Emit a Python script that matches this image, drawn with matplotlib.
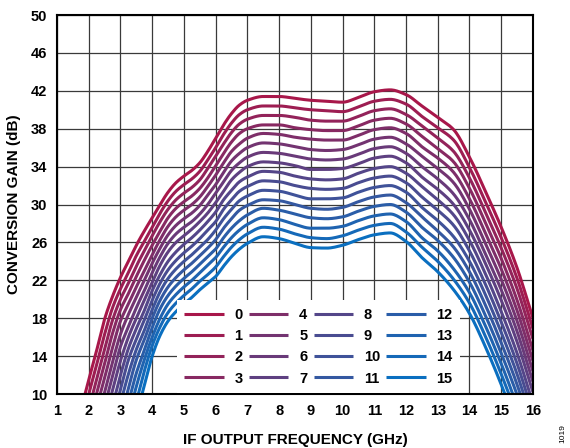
import numpy as np
import matplotlib
matplotlib.use("Agg")
import matplotlib.pyplot as plt
from matplotlib.colors import to_rgb

nan = float("nan")

freq_ghz = [1.75, 2.0, 2.25, 2.5, 2.75, 3.0, 3.25, 3.5, 3.75, 4.0, 4.25, 4.5, 4.75, 5.0,
            5.25, 5.5, 5.75, 6.0, 6.25, 6.5, 6.75, 7.0, 7.5, 8.0, 8.5, 9.0, 9.5, 10.0,
            10.5, 11.0, 11.5, 12.0, 12.5, 13.0, 13.5, 14.0, 14.5, 15.0, 15.5, 16.0]

gain_00 = [8.3, 11.5, 14.6, 17.9, 20.3, 22.3, 24.0, 25.7, 27.2, 28.6, 30.0, 31.3, 32.3, 33.0,
           33.6, 34.4, 35.6, 37.0, 38.4, 39.6, 40.5, 41.0, 41.4, 41.4, 41.2, 41.0, 40.9, 40.8,
           41.3, 41.9, 42.1, 41.6, 40.4, 39.2, 37.9, 35.0, 31.4, 27.6, 23.3, 18.0]
gain_01 = [6.8, 10.0, 13.1, 16.3, 19.1, 21.1, 22.8, 24.6, 26.1, 27.6, 29.1, 30.4, 31.4, 32.1,
           32.7, 33.5, 34.7, 36.0, 37.4, 38.6, 39.5, 40.0, 40.4, 40.4, 40.2, 40.0, 39.9, 39.8,
           40.3, 40.9, 41.1, 40.6, 39.3, 38.1, 36.8, 33.9, 30.3, 26.5, 22.2, 16.9]
gain_02 = [5.2, 8.4, 11.6, 14.7, 17.8, 20.0, 21.7, 23.5, 25.1, 26.7, 28.2, 29.5, 30.5, 31.2,
           31.8, 32.6, 33.8, 35.1, 36.4, 37.6, 38.5, 39.0, 39.4, 39.4, 39.2, 38.9, 38.8, 38.8,
           39.3, 39.9, 40.1, 39.5, 38.3, 37.0, 35.6, 32.8, 29.2, 25.4, 21.1, 15.8]
gain_03 = [3.7, 6.9, 10.1, 13.2, 16.4, 18.9, 20.6, 22.4, 24.1, 25.7, 27.2, 28.6, 29.6, 30.3,
           30.9, 31.7, 32.8, 34.1, 35.4, 36.6, 37.5, 38.0, 38.4, 38.4, 38.1, 37.9, 37.8, 37.8,
           38.3, 38.9, 39.1, 38.5, 37.2, 35.9, 34.5, 31.7, 28.1, 24.3, 19.9, 14.6]
gain_04 = [nan, 5.4, 8.6, 11.7, 14.9, 17.7, 19.5, 21.3, 23.0, 24.7, 26.3, 27.7, 28.7, 29.4,
           30.0, 30.8, 31.9, 33.1, 34.4, 35.6, 36.4, 37.0, 37.5, 37.4, 37.1, 36.9, 36.8, 36.8,
           37.3, 37.9, 38.1, 37.5, 36.1, 34.9, 33.4, 30.6, 27.0, 23.2, 18.8, 13.5]
gain_05 = [nan, 3.8, 7.0, 10.2, 13.4, 16.3, 18.4, 20.2, 22.0, 23.8, 25.4, 26.8, 27.8, 28.5,
           29.1, 29.9, 31.0, 32.1, 33.4, 34.6, 35.4, 36.0, 36.5, 36.4, 36.1, 35.8, 35.7, 35.8,
           36.3, 36.9, 37.1, 36.4, 35.1, 33.8, 32.3, 29.5, 25.9, 22.1, 17.7, 12.4]
gain_06 = [nan, nan, 5.5, 8.7, 11.9, 15.0, 17.1, 19.1, 20.9, 22.8, 24.5, 25.9, 26.9, 27.6,
           28.2, 29.0, 30.0, 31.2, 32.4, 33.6, 34.4, 35.0, 35.5, 35.4, 35.1, 34.8, 34.7, 34.8,
           35.3, 35.9, 36.1, 35.4, 34.0, 32.7, 31.1, 28.4, 24.8, 21.0, 16.6, 11.3]
gain_07 = [nan, nan, 3.9, 7.2, 10.4, 13.5, 16.0, 18.0, 19.9, 21.8, 23.6, 25.0, 26.0, 26.7,
           27.4, 28.2, 29.1, 30.2, 31.4, 32.6, 33.4, 34.0, 34.5, 34.4, 34.1, 33.7, 33.7, 33.8,
           34.3, 34.9, 35.1, 34.4, 32.9, 31.6, 30.0, 27.3, 23.8, 19.9, 15.5, 10.2]
gain_08 = [nan, nan, nan, 5.6, 8.8, 12.0, 14.8, 16.9, 18.8, 20.9, 22.6, 24.0, 25.0, 25.8,
           26.5, 27.3, 28.2, 29.2, 30.5, 31.5, 32.4, 32.9, 33.5, 33.4, 33.0, 32.7, 32.6, 32.7,
           33.3, 33.8, 34.0, 33.3, 31.9, 30.5, 28.9, 26.2, 22.7, 18.7, 14.3, 9.0]
gain_09 = [nan, nan, nan, 4.1, 7.3, 10.5, 13.6, 15.8, 17.8, 19.9, 21.7, 23.1, 24.1, 24.9,
           25.6, 26.4, 27.3, 28.2, 29.5, 30.5, 31.4, 31.9, 32.5, 32.4, 32.0, 31.7, 31.6, 31.7,
           32.3, 32.8, 33.0, 32.3, 30.8, 29.4, 27.8, 25.1, 21.6, 17.6, 13.2, 7.9]
gain_10 = [nan, nan, nan, nan, 5.7, 9.0, 12.1, 14.7, 16.7, 18.9, 20.8, 22.2, 23.2, 24.0,
           24.7, 25.5, 26.3, 27.3, 28.5, 29.5, 30.4, 30.9, 31.5, 31.4, 31.0, 30.6, 30.6, 30.7,
           31.3, 31.8, 32.0, 31.3, 29.7, 28.3, 26.6, 24.0, 20.5, 16.5, 12.1, 6.8]
gain_11 = [nan, nan, nan, nan, 4.2, 7.4, 10.6, 13.6, 15.7, 18.0, 19.9, 21.3, 22.3, 23.1,
           23.8, 24.6, 25.4, 26.3, 27.5, 28.5, 29.4, 29.9, 30.5, 30.4, 30.0, 29.6, 29.5, 29.7,
           30.3, 30.8, 31.0, 30.2, 28.7, 27.2, 25.5, 22.9, 19.4, 15.4, 11.0, 5.7]
gain_12 = [nan, nan, nan, nan, nan, 5.9, 9.1, 12.2, 14.6, 17.0, 19.0, 20.4, 21.4, 22.2,
           22.9, 23.7, 24.5, 25.3, 26.5, 27.5, 28.3, 28.9, 29.6, 29.4, 29.0, 28.6, 28.5, 28.7,
           29.3, 29.8, 30.0, 29.2, 27.6, 26.2, 24.4, 21.8, 18.3, 14.3, 9.9, 4.6]
gain_13 = [nan, nan, nan, nan, nan, 4.3, 7.5, 10.8, 13.6, 16.0, 18.0, 19.5, 20.5, 21.3,
           22.0, 22.8, 23.6, 24.4, 25.5, 26.5, 27.3, 27.9, 28.6, 28.4, 27.9, 27.5, 27.5, 27.7,
           28.3, 28.8, 29.0, 28.2, 26.5, 25.1, 23.2, 20.7, 17.2, 13.2, 8.7, 3.4]
gain_14 = [nan, nan, nan, nan, nan, nan, 6.0, 9.2, 12.4, 15.1, 17.1, 18.6, 19.6, 20.4,
           21.1, 21.9, 22.6, 23.4, 24.5, 25.5, 26.3, 26.9, 27.6, 27.4, 26.9, 26.5, 26.4, 26.7,
           27.3, 27.8, 28.0, 27.1, 25.5, 24.0, 22.1, 19.6, 16.1, 12.1, 7.6, 2.3]
gain_15 = [nan, nan, nan, nan, nan, nan, 4.5, 7.7, 10.9, 14.0, 16.2, 17.7, 18.7, 19.5,
           20.2, 21.0, 21.7, 22.4, 23.5, 24.5, 25.3, 25.9, 26.6, 26.4, 25.9, 25.45, 25.4, 25.7,
           26.3, 26.8, 27.0, 26.1, 24.4, 22.9, 21.0, 18.5, 15.0, 11.0, 6.5, nan]

series_labels = ["0", "1", "2", "3", "4", "5", "6", "7",
                 "8", "9", "10", "11", "12", "13", "14", "15"]
x_ticks = [1, 2, 3, 4, 5, 6, 7, 8, 9, 10, 11, 12, 13, 14, 15, 16]
y_ticks = [10, 14, 18, 22, 26, 30, 34, 38, 42, 46, 50]

curves = [gain_00, gain_01, gain_02, gain_03, gain_04, gain_05, gain_06, gain_07,
          gain_08, gain_09, gain_10, gain_11, gain_12, gain_13, gain_14, gain_15]


def smooth_path(x, y, per_seg=12):
    """Monotone cubic Hermite (PCHIP) rendering through the data points."""
    x = np.asarray(x, float)
    y = np.asarray(y, float)
    ok = np.isfinite(y)
    x, y = x[ok], y[ok]
    n = len(x)
    h = np.diff(x)
    d = np.diff(y) / h
    m = np.zeros(n)
    m[0], m[-1] = d[0], d[-1]
    for k in range(1, n - 1):
        if d[k - 1] * d[k] <= 0:
            m[k] = 0.0
        else:
            w1 = 2 * h[k] + h[k - 1]
            w2 = h[k] + 2 * h[k - 1]
            m[k] = (w1 + w2) / (w1 / d[k - 1] + w2 / d[k])
    xs, ys = [], []
    for k in range(n - 1):
        t = np.linspace(0, 1, per_seg, endpoint=(k == n - 2))
        h00 = 2 * t**3 - 3 * t**2 + 1
        h10 = t**3 - 2 * t**2 + t
        h01 = -2 * t**3 + 3 * t**2
        h11 = t**3 - t**2
        xs.append(x[k] + t * h[k])
        ys.append(h00 * y[k] + h10 * h[k] * m[k] + h01 * y[k + 1] + h11 * h[k] * m[k + 1])
    return np.concatenate(xs), np.concatenate(ys)


plt.rcParams['font.family'] = ['Liberation Sans', 'DejaVu Sans']

fig = plt.figure(figsize=(5.7, 4.48), dpi=100)
ax = fig.add_axes([0.1, 0.1205, 0.835, 0.846])

c_start = np.array(to_rgb('#A8174A'))
c_end = np.array(to_rgb('#0A6FC0'))
n_curves = len(curves)
for i, g in enumerate(curves):
    t = i / (n_curves - 1)
    col = (1 - t) * c_start + t * c_end
    xs, ys = smooth_path(freq_ghz, g)
    ax.plot(xs, ys, color=col, lw=2.2, label=series_labels[i],
            solid_joinstyle='round', solid_capstyle='butt')

ax.set_xlim(1, 16)
ax.set_ylim(10, 50)
ax.set_xticks(x_ticks)
ax.set_yticks(y_ticks)
ax.grid(True, color='#3a3a3a', lw=0.9)
ax.set_axisbelow(True)
ax.tick_params(length=0, labelsize=10.5)
ax.tick_params(axis='x', pad=7)
ax.tick_params(axis='y', pad=7)
for lab in ax.get_xticklabels() + ax.get_yticklabels():
    lab.set_fontweight('bold')
for s in ax.spines.values():
    s.set_linewidth(1.5)
    s.set_color('black')

ax.set_xlabel('IF OUTPUT FREQUENCY (GHz)', fontsize=11, fontweight='bold', labelpad=11)
ax.set_ylabel('CONVERSION GAIN (dB)', fontsize=11, fontweight='bold', labelpad=7)

leg = ax.legend(ncol=4, loc='lower left', bbox_to_anchor=(0.252, 0.003),
                borderaxespad=0, frameon=True, fancybox=False, edgecolor='none',
                facecolor='white', framealpha=1, fontsize=10.5, handlelength=2.7,
                handletextpad=0.75, columnspacing=0.42, labelspacing=0.5,
                borderpad=0.5)
for t in leg.get_texts():
    t.set_fontweight('bold')

fig.text(0.988, 0.033, '1019', rotation=90, fontsize=6, ha='center', va='center')

fig.savefig('out.png', dpi=100)
